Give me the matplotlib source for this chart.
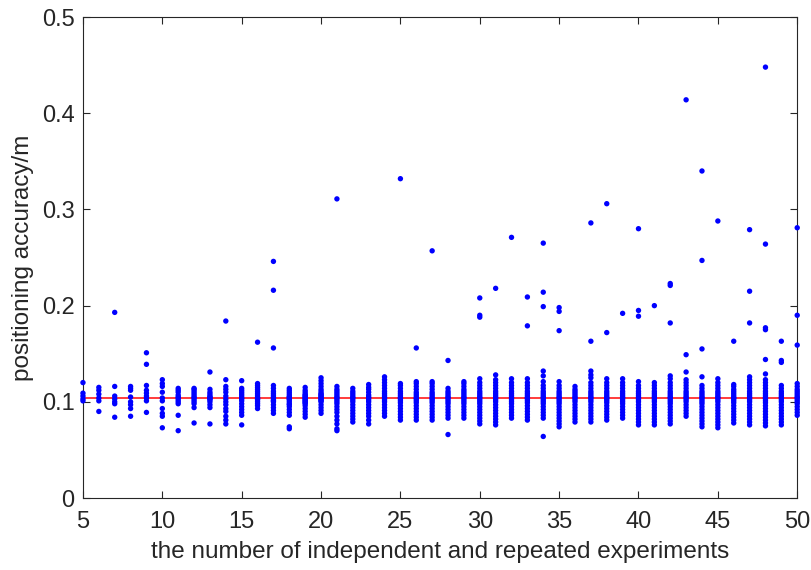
import matplotlib
matplotlib.use("Agg")
import matplotlib.pyplot as plt
from matplotlib import font_manager

# ---------------- data ----------------
experiments = list(range(5, 51))

acc_05 = [0.101, 0.103, 0.106, 0.109, 0.120]
acc_06 = [0.090, 0.101, 0.104, 0.108, 0.112, 0.115]
acc_07 = [0.084, 0.098, 0.100, 0.103, 0.106, 0.116, 0.193]
acc_08 = [0.085, 0.093, 0.097, 0.100, 0.105, 0.112, 0.114, 0.116]
acc_09 = [0.089, 0.101, 0.104, 0.106, 0.109, 0.112, 0.117, 0.139, 0.151]
acc_10 = [0.073, 0.085, 0.088, 0.093, 0.101, 0.104, 0.110, 0.116, 0.119, 0.123]
acc_11 = [0.070, 0.086, 0.098, 0.100, 0.102, 0.104, 0.105, 0.107, 0.110, 0.112, 0.114]
acc_12 = [0.078, 0.094, 0.098, 0.100, 0.102, 0.104, 0.105, 0.107, 0.109, 0.111, 0.113, 0.114]
acc_13 = [0.077, 0.094, 0.097, 0.100, 0.102, 0.103, 0.104, 0.105, 0.106, 0.108, 0.110, 0.113, 0.131]
acc_14 = [0.077, 0.081, 0.085, 0.090, 0.093, 0.097, 0.100, 0.103, 0.106, 0.110, 0.113, 0.116, 0.123, 0.184]
acc_15 = [0.076, 0.086, 0.089, 0.092, 0.095, 0.098, 0.101, 0.103, 0.104, 0.106, 0.108, 0.110, 0.112, 0.114, 0.122]
acc_16 = [0.093, 0.096, 0.098, 0.100, 0.102, 0.103, 0.104, 0.105, 0.107, 0.109, 0.111, 0.113, 0.115, 0.117, 0.119, 0.162]
acc_17 = [0.088, 0.091, 0.094, 0.097, 0.100, 0.101, 0.102, 0.104, 0.105, 0.107, 0.109, 0.111, 0.114, 0.117, 0.156, 0.216, 0.246]
acc_18 = [0.072, 0.074, 0.086, 0.089, 0.092, 0.095, 0.097, 0.098, 0.100, 0.102, 0.103, 0.104, 0.105, 0.106, 0.108, 0.110, 0.112, 0.114]
acc_19 = [0.084, 0.087, 0.090, 0.093, 0.096, 0.098, 0.099, 0.100, 0.101, 0.102, 0.103, 0.104, 0.105, 0.106, 0.107, 0.108, 0.110, 0.112, 0.115]
acc_20 = [0.088, 0.091, 0.094, 0.097, 0.100, 0.101, 0.102, 0.103, 0.104, 0.105, 0.106, 0.107, 0.108, 0.109, 0.111, 0.113, 0.116, 0.119, 0.122, 0.125]
acc_21 = [0.070, 0.072, 0.077, 0.081, 0.085, 0.089, 0.092, 0.095, 0.098, 0.100, 0.102, 0.104, 0.105, 0.107, 0.109, 0.111, 0.113, 0.116, 0.311]
acc_22 = [0.079, 0.082, 0.085, 0.088, 0.091, 0.094, 0.097, 0.100, 0.102, 0.104, 0.105, 0.107, 0.109, 0.111, 0.114]
acc_23 = [0.077, 0.081, 0.085, 0.088, 0.091, 0.094, 0.097, 0.100, 0.102, 0.104, 0.105, 0.107, 0.110, 0.113, 0.115, 0.118]
acc_24 = [0.085, 0.088, 0.091, 0.094, 0.097, 0.100, 0.102, 0.104, 0.105, 0.107, 0.109, 0.111, 0.114, 0.117, 0.120, 0.123, 0.126]
acc_25 = [0.081, 0.084, 0.087, 0.090, 0.093, 0.096, 0.099, 0.101, 0.103, 0.104, 0.105, 0.107, 0.109, 0.111, 0.114, 0.117, 0.119, 0.332]
acc_26 = [0.081, 0.084, 0.087, 0.090, 0.093, 0.096, 0.099, 0.101, 0.103, 0.104, 0.106, 0.108, 0.110, 0.113, 0.116, 0.119, 0.121, 0.156]
acc_27 = [0.081, 0.084, 0.087, 0.090, 0.093, 0.096, 0.099, 0.101, 0.103, 0.104, 0.106, 0.108, 0.110, 0.113, 0.116, 0.119, 0.121, 0.257]
acc_28 = [0.066, 0.083, 0.086, 0.089, 0.092, 0.095, 0.098, 0.100, 0.102, 0.104, 0.105, 0.107, 0.109, 0.111, 0.114, 0.143]
acc_29 = [0.083, 0.086, 0.089, 0.092, 0.095, 0.098, 0.100, 0.102, 0.104, 0.105, 0.107, 0.109, 0.111, 0.113, 0.116, 0.119, 0.121]
acc_30 = [0.077, 0.080, 0.083, 0.086, 0.089, 0.092, 0.095, 0.098, 0.100, 0.102, 0.104, 0.105, 0.107, 0.109, 0.111, 0.114, 0.117, 0.120, 0.124, 0.188, 0.190, 0.208]
acc_31 = [0.076, 0.079, 0.082, 0.085, 0.088, 0.091, 0.094, 0.097, 0.100, 0.102, 0.104, 0.105, 0.107, 0.109, 0.111, 0.114, 0.117, 0.120, 0.123, 0.128, 0.218]
acc_32 = [0.083, 0.086, 0.089, 0.092, 0.095, 0.098, 0.100, 0.102, 0.104, 0.105, 0.107, 0.109, 0.111, 0.114, 0.117, 0.120, 0.124, 0.271]
acc_33 = [0.081, 0.084, 0.087, 0.090, 0.093, 0.096, 0.099, 0.101, 0.103, 0.104, 0.105, 0.107, 0.109, 0.111, 0.114, 0.117, 0.120, 0.124, 0.179, 0.209]
acc_34 = [0.064, 0.083, 0.086, 0.089, 0.092, 0.095, 0.098, 0.100, 0.102, 0.104, 0.105, 0.107, 0.109, 0.111, 0.114, 0.117, 0.121, 0.127, 0.132, 0.199, 0.214, 0.265]
acc_35 = [0.074, 0.077, 0.080, 0.083, 0.086, 0.089, 0.092, 0.095, 0.098, 0.100, 0.102, 0.104, 0.105, 0.107, 0.109, 0.111, 0.114, 0.117, 0.121, 0.174, 0.194, 0.198]
acc_36 = [0.079, 0.082, 0.085, 0.088, 0.091, 0.094, 0.097, 0.100, 0.102, 0.104, 0.105, 0.107, 0.109, 0.111, 0.113, 0.116]
acc_37 = [0.079, 0.082, 0.085, 0.088, 0.091, 0.094, 0.097, 0.100, 0.102, 0.104, 0.105, 0.107, 0.109, 0.111, 0.114, 0.117, 0.120, 0.125, 0.128, 0.132, 0.163, 0.286]
acc_38 = [0.081, 0.084, 0.087, 0.090, 0.093, 0.096, 0.099, 0.101, 0.103, 0.104, 0.105, 0.107, 0.109, 0.111, 0.114, 0.117, 0.120, 0.124, 0.172, 0.306]
acc_39 = [0.083, 0.086, 0.089, 0.092, 0.095, 0.098, 0.100, 0.102, 0.104, 0.105, 0.107, 0.109, 0.111, 0.114, 0.117, 0.120, 0.124, 0.192]
acc_40 = [0.076, 0.079, 0.082, 0.085, 0.088, 0.091, 0.094, 0.097, 0.100, 0.102, 0.104, 0.105, 0.107, 0.109, 0.111, 0.114, 0.117, 0.121, 0.189, 0.195, 0.280]
acc_41 = [0.076, 0.079, 0.082, 0.085, 0.088, 0.091, 0.094, 0.097, 0.100, 0.102, 0.104, 0.105, 0.107, 0.109, 0.111, 0.114, 0.117, 0.120, 0.200]
acc_42 = [0.077, 0.080, 0.083, 0.086, 0.089, 0.092, 0.095, 0.098, 0.100, 0.102, 0.104, 0.105, 0.107, 0.109, 0.111, 0.114, 0.117, 0.120, 0.124, 0.127, 0.182, 0.221, 0.223]
acc_43 = [0.085, 0.088, 0.091, 0.094, 0.097, 0.100, 0.102, 0.104, 0.105, 0.107, 0.109, 0.111, 0.114, 0.117, 0.120, 0.123, 0.131, 0.149, 0.414]
acc_44 = [0.074, 0.077, 0.080, 0.083, 0.086, 0.089, 0.092, 0.095, 0.098, 0.100, 0.102, 0.104, 0.105, 0.107, 0.109, 0.111, 0.114, 0.117, 0.126, 0.155, 0.247, 0.340]
acc_45 = [0.073, 0.076, 0.079, 0.082, 0.085, 0.088, 0.091, 0.094, 0.097, 0.100, 0.102, 0.104, 0.105, 0.107, 0.109, 0.111, 0.114, 0.117, 0.120, 0.124, 0.288]
acc_46 = [0.078, 0.081, 0.084, 0.087, 0.090, 0.093, 0.096, 0.099, 0.101, 0.103, 0.104, 0.105, 0.107, 0.109, 0.111, 0.113, 0.116, 0.118, 0.163]
acc_47 = [0.076, 0.079, 0.082, 0.085, 0.088, 0.091, 0.094, 0.097, 0.100, 0.102, 0.104, 0.105, 0.107, 0.109, 0.111, 0.114, 0.117, 0.120, 0.123, 0.126, 0.182, 0.215, 0.279]
acc_48 = [0.075, 0.078, 0.081, 0.084, 0.087, 0.090, 0.093, 0.096, 0.099, 0.101, 0.103, 0.104, 0.105, 0.107, 0.109, 0.111, 0.114, 0.117, 0.120, 0.123, 0.129, 0.144, 0.175, 0.177, 0.264, 0.448]
acc_49 = [0.076, 0.079, 0.082, 0.085, 0.088, 0.091, 0.094, 0.097, 0.100, 0.102, 0.104, 0.105, 0.107, 0.109, 0.111, 0.114, 0.117, 0.141, 0.143, 0.163]
acc_50 = [0.086, 0.089, 0.092, 0.095, 0.098, 0.100, 0.102, 0.104, 0.105, 0.107, 0.109, 0.111, 0.113, 0.116, 0.119, 0.159, 0.190, 0.281]

mean_accuracy = 0.1043

x_ticks = [5, 10, 15, 20, 25, 30, 35, 40, 45, 50]
y_ticks = [0, 0.1, 0.2, 0.3, 0.4, 0.5]
y_tick_labels = ["0", "0.1", "0.2", "0.3", "0.4", "0.5"]
x_label = "the number of independent and repeated experiments"
y_label = "positioning accuracy/m"

columns = [acc_05, acc_06, acc_07, acc_08, acc_09, acc_10, acc_11, acc_12, acc_13,
           acc_14, acc_15, acc_16, acc_17, acc_18, acc_19, acc_20, acc_21, acc_22,
           acc_23, acc_24, acc_25, acc_26, acc_27, acc_28, acc_29, acc_30, acc_31,
           acc_32, acc_33, acc_34, acc_35, acc_36, acc_37, acc_38, acc_39, acc_40,
           acc_41, acc_42, acc_43, acc_44, acc_45, acc_46, acc_47, acc_48, acc_49,
           acc_50]

# ---------------- plot ----------------
plt.rcParams["font.family"] = ["Liberation Sans", "DejaVu Sans"]
text_color = "#262626"

fig = plt.figure(figsize=(8.11, 5.70), dpi=100)
ax = fig.add_axes([0.1023, 0.1263, 0.8807, 0.8437])

xs, ys = [], []
for n, vals in zip(experiments, columns):
    xs.extend([n] * len(vals))
    ys.extend(vals)

ax.plot([experiments[0], experiments[-1]], [mean_accuracy, mean_accuracy],
        color="#ff1a1a", lw=1.2, zorder=1, clip_on=False)
ax.scatter(xs, ys, s=15, color="#0000ff", edgecolors="none", zorder=3, clip_on=False)

ax.set_xlim(5, 50)
ax.set_ylim(0, 0.5)
ax.set_xticks(x_ticks)
ax.set_yticks(y_ticks)
ax.set_yticklabels(y_tick_labels)
ax.tick_params(direction="in", length=5, width=0.8, top=True, right=True,
               labelsize=17, colors=text_color, pad=6)
ax.tick_params(axis="x", pad=9)
for s in ax.spines.values():
    s.set_color(text_color)
    s.set_linewidth(0.8)
ax.set_xlabel(x_label, fontsize=17.5, color=text_color, labelpad=6)
ax.set_ylabel(y_label, fontsize=17.5, color=text_color, labelpad=6)

fig.savefig("out.png", dpi=100)
